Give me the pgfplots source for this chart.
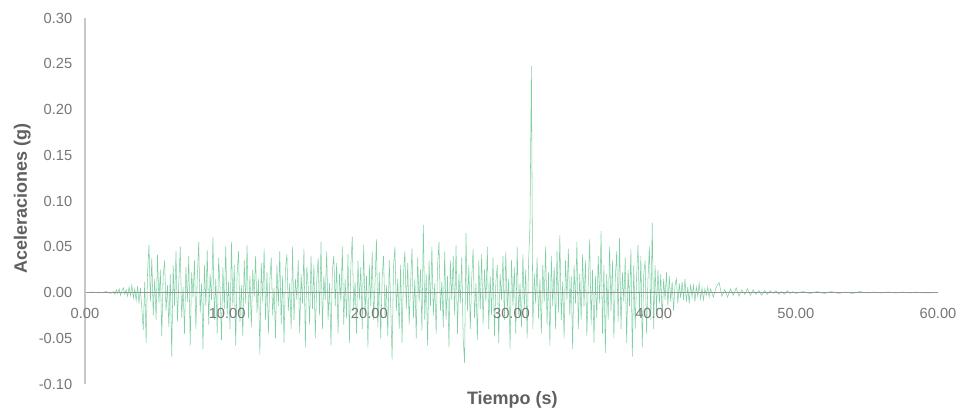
\documentclass[border=0pt]{standalone}
\usepackage{pgfplots}
\pgfplotsset{compat=1.18}
\usepackage{fontspec}
\setmainfont{Liberation Sans}
\definecolor{sig}{RGB}{76,190,128}
\definecolor{ticktxt}{RGB}{118,118,118}
\definecolor{labtxt}{RGB}{96,96,96}
\begin{document}
\begin{tikzpicture}
\begin{axis}[
  name=ax, at={(0,0)}, anchor=south west,
  scale only axis, width=639.75pt, height=274.5pt,
  xmin=0, xmax=60, ymin=-0.10, ymax=0.30,
  axis x line*=middle, axis y line*=left,
  hide obscured x ticks=false, hide obscured y ticks=false,
  x axis line style={draw=black!42, line width=0.6pt},
  y axis line style={draw=black!22, line width=0.8pt},
  xtick={0,10,...,60}, ytick={-0.10,-0.05,0,0.05,0.10,0.15,0.20,0.25,0.30},
  major tick length=0pt,
  /pgf/number format/.cd, fixed, fixed zerofill, precision=2, assume math mode=true, /pgfplots/.cd,
  tick label style={font=\fontsize{11}{13}\selectfont, text=ticktxt},
  yticklabel style={xshift=-6pt},
  xticklabel style={yshift=-8pt},
  xlabel={Tiempo (s)}, ylabel={Aceleraciones (g)},
  label style={font=\fontsize{13.5}{15}\selectfont\bfseries, text=labtxt},
  xlabel style={at={(axis description cs:0.501,0)}, anchor=center, yshift=-12pt},
  ylabel style={at={(axis description cs:-0.0735,0.508)}, anchor=center},
  axis on top,
  clip=false,
]
\addplot[sig, line width=0.4pt, opacity=0.72] coordinates {
(0,0) (0.5,0.0005) (1.0,-0.0005) (1.5,0.001) (1.8,-0.001)
(2.0,0.001) (2.1,-0.002) (2.2,0.003) (2.3,-0.001) (2.4,0.004) (2.5,-0.003) (2.6,0.002) (2.7,0.005) (2.8,-0.002) (2.9,0.003)
(3.0,-0.004) (3.1,0.006) (3.2,-0.003) (3.3,0.008) (3.4,-0.006) (3.5,0.004) (3.6,-0.009) (3.7,0.007) (3.8,-0.012) (3.9,0.005)
(4.0,-0.018) (4.1,-0.041) (4.2,0.012) (4.3,-0.055) (4.4,0.022) (4.5,0.052) (4.6,-0.010) (4.7,0.038) (4.8,-0.025) (4.9,0.015)
(5.0,-0.030) (5.1,0.041) (5.2,-0.012) (5.3,0.025) (5.4,-0.048) (5.5,0.018) (5.6,0.035) (5.7,-0.020) (5.8,0.008) (5.9,-0.038)
(6.0,0.020) (6.1,-0.070) (6.2,0.030) (6.3,-0.015) (6.4,0.045) (6.5,-0.032) (6.6,0.012) (6.7,0.050) (6.8,-0.028) (6.9,0.006)
(7.0,-0.045) (7.1,0.028) (7.2,-0.010) (7.3,0.040) (7.4,-0.058) (7.5,0.022) (7.6,-0.005) (7.7,0.035) (7.8,-0.040) (7.9,0.018)
(8.0,0.055) (8.1,-0.022) (8.2,0.010) (8.3,-0.062) (8.4,0.030) (8.5,-0.015) (8.6,0.046) (8.7,-0.035) (8.8,0.020) (8.9,-0.008)
(9.0,0.061) (9.1,-0.030) (9.2,0.015) (9.3,-0.045) (9.4,0.038) (9.5,0.005) (9.6,-0.052) (9.7,0.028) (9.8,-0.018) (9.9,0.050)
(10.0,-0.025) (10.1,0.012) (10.2,-0.040) (10.3,0.055) (10.4,-0.015) (10.5,0.030) (10.6,-0.058) (10.7,0.020) (10.8,0.045) (10.9,-0.032)
(11.0,0.008) (11.1,-0.048) (11.2,0.035) (11.3,-0.012) (11.4,0.052) (11.5,-0.028) (11.6,0.018) (11.7,-0.038) (11.8,0.025) (11.9,-0.005)
(12.0,0.040) (12.1,-0.022) (12.2,0.015) (12.3,-0.068) (12.4,0.032) (12.5,-0.010) (12.6,0.048) (12.7,-0.030) (12.8,0.022) (12.9,-0.045)
(13.0,0.012) (13.1,0.038) (13.2,-0.025) (13.3,0.005) (13.4,-0.050) (13.5,0.030) (13.6,-0.015) (13.7,0.045) (13.8,-0.035) (13.9,0.018)
(14.0,-0.055) (14.1,0.025) (14.2,0.042) (14.3,-0.020) (14.4,0.010) (14.5,-0.040) (14.6,0.050) (14.7,-0.030) (14.8,0.015) (14.9,-0.008)
(15.0,0.035) (15.1,-0.045) (15.2,0.020) (15.3,-0.012) (15.4,0.048) (15.5,-0.060) (15.6,0.028) (15.7,0.008) (15.8,-0.035) (15.9,0.040)
(16.0,-0.018) (16.1,0.030) (16.2,-0.050) (16.3,0.012) (16.4,0.038) (16.5,-0.025) (16.6,0.055) (16.7,-0.040) (16.8,0.018) (16.9,-0.008)
(17.0,0.045) (17.1,-0.030) (17.2,0.010) (17.3,-0.058) (17.4,0.025) (17.5,0.040) (17.6,-0.015) (17.7,0.032) (17.8,-0.045) (17.9,0.020)
(18.0,-0.010) (18.1,0.050) (18.2,-0.035) (18.3,0.015) (18.4,-0.028) (18.5,0.042) (18.6,-0.055) (18.7,0.030) (18.8,0.061) (18.9,-0.020)
(19.0,0.012) (19.1,-0.045) (19.2,0.035) (19.3,-0.008) (19.4,0.028) (19.5,-0.040) (19.6,0.052) (19.7,-0.025) (19.8,0.018) (19.9,-0.060)
(20.0,0.030) (20.1,-0.015) (20.2,0.045) (20.3,-0.030) (20.4,0.010) (20.5,0.058) (20.6,-0.038) (20.7,0.022) (20.8,-0.050) (20.9,0.015)
(21.0,0.040) (21.1,-0.025) (21.2,0.008) (21.3,-0.048) (21.4,0.035) (21.5,-0.012) (21.6,-0.073) (21.7,0.028) (21.8,0.050) (21.9,-0.020)
(22.0,0.015) (22.1,-0.040) (22.2,0.030) (22.3,-0.055) (22.4,0.020) (22.5,0.045) (22.6,-0.018) (22.7,0.032) (22.8,-0.035) (22.9,0.010)
(23.0,0.048) (23.1,-0.028) (23.2,0.015) (23.3,-0.050) (23.4,0.038) (23.5,-0.010) (23.6,0.025) (23.7,-0.042) (23.8,0.074) (23.9,-0.030)
(24.0,0.020) (24.1,-0.058) (24.2,0.035) (24.3,-0.015) (24.4,0.050) (24.5,-0.025) (24.6,0.010) (24.7,-0.045) (24.8,0.030) (24.9,0.055)
(25.0,-0.020) (25.1,0.012) (25.2,-0.038) (25.3,0.045) (25.4,-0.030) (25.5,0.018) (25.6,-0.060) (25.7,0.035) (25.8,-0.008) (25.9,0.040)
(26.0,-0.025) (26.1,0.052) (26.2,-0.045) (26.3,0.020) (26.4,-0.012) (26.5,0.038) (26.6,-0.050) (26.7,-0.077) (26.8,0.065) (26.9,-0.020)
(27.0,0.030) (27.1,-0.040) (27.2,0.015) (27.3,0.048) (27.4,-0.028) (27.5,0.010) (27.6,-0.052) (27.7,0.035) (27.8,-0.018) (27.9,0.042)
(28.0,-0.035) (28.1,0.025) (28.2,-0.010) (28.3,0.050) (28.4,-0.040) (28.5,0.018) (28.6,-0.025) (28.7,0.038) (28.8,-0.048) (28.9,0.012)
(29.0,0.030) (29.1,-0.055) (29.2,0.020) (29.3,-0.008) (29.4,0.040) (29.5,-0.030) (29.6,0.045) (29.7,-0.020) (29.8,0.015) (29.9,-0.062)
(30.0,0.035) (30.1,-0.015) (30.2,0.028) (30.3,-0.045) (30.4,0.050) (30.5,-0.025) (30.6,0.010) (30.7,-0.038) (30.8,0.042) (30.9,-0.018)
(31.0,0.025) (31.1,-0.050) (31.2,0.032) (31.3,0.075) (31.4,0.248) (31.5,-0.040) (31.6,0.020) (31.7,-0.012) (31.8,0.038) (31.9,-0.028)
(32.0,0.015) (32.1,-0.045) (32.2,0.030) (32.3,-0.010) (32.4,0.050) (32.5,-0.035) (32.6,0.022) (32.7,-0.058) (32.8,0.040) (32.9,-0.015)
(33.0,0.028) (33.1,-0.040) (33.2,0.045) (33.3,-0.022) (33.4,0.063) (33.5,-0.030) (33.6,0.012) (33.7,-0.050) (33.8,0.035) (33.9,-0.008)
(34.0,0.048) (34.1,-0.025) (34.2,0.018) (34.3,-0.062) (34.4,0.030) (34.5,-0.012) (34.6,0.055) (34.7,-0.040) (34.8,0.020) (34.9,-0.030)
(35.0,0.042) (35.1,-0.015) (35.2,0.035) (35.3,-0.048) (35.4,0.010) (35.5,0.058) (35.6,-0.035) (35.7,0.025) (35.8,-0.055) (35.9,0.018)
(36.0,-0.028) (36.1,0.040) (36.2,-0.012) (36.3,0.067) (36.4,-0.045) (36.5,0.030) (36.6,-0.066) (36.7,0.020) (36.8,-0.030) (36.9,0.050)
(37.0,-0.020) (37.1,0.035) (37.2,-0.050) (37.3,0.015) (37.4,0.045) (37.5,-0.032) (37.6,0.060) (37.7,-0.040) (37.8,0.022) (37.9,-0.010)
(38.0,0.038) (38.1,-0.055) (38.2,0.025) (38.3,-0.015) (38.4,0.048) (38.5,-0.070) (38.6,0.030) (38.7,-0.040) (38.8,0.018) (38.9,0.052)
(39.0,-0.025) (39.1,0.040) (39.2,-0.060) (39.3,0.020) (39.4,0.035) (39.5,-0.045) (39.6,0.015) (39.7,0.050) (39.8,-0.030) (39.9,0.076)
(40.0,-0.040) (40.1,0.030) (40.2,-0.020) (40.3,0.025) (40.4,-0.012) (40.5,0.020) (40.6,-0.030) (40.7,0.015) (40.8,-0.008) (40.9,0.022)
(41.0,-0.015) (41.1,0.018) (41.2,-0.010) (41.3,0.012) (41.4,-0.020) (41.5,0.008) (41.6,0.015) (41.7,-0.012) (41.8,0.010) (41.9,-0.006)
(42.0,0.012) (42.1,-0.008) (42.2,0.015) (42.3,-0.010) (42.4,0.006) (42.5,-0.012) (42.6,0.009) (42.7,-0.005) (42.8,0.008) (42.9,-0.010)
(43.0,0.006) (43.1,-0.004) (43.2,0.010) (43.3,-0.007) (43.4,0.005) (43.5,-0.008) (43.6,0.004) (43.7,-0.003) (43.8,0.006) (43.9,-0.005)
(44.0,0.004) (44.2,-0.005) (44.4,0.006) (44.6,0.011) (44.8,-0.004) (45.0,0.003) (45.2,-0.005) (45.4,0.004) (45.6,-0.003) (45.8,0.005)
(46.0,-0.004) (46.2,0.003) (46.4,-0.002) (46.6,0.004) (46.8,-0.003) (47.0,0.003) (47.2,-0.002) (47.4,0.002) (47.6,-0.003) (47.8,0.002)
(48.0,-0.002) (48.2,0.002) (48.4,-0.001) (48.6,0.002) (48.8,-0.002) (49.0,0.001) (49.2,-0.002) (49.4,0.002) (49.6,-0.001) (49.8,0.001)
(50.0,-0.001) (50.5,0.001) (51.0,-0.001) (51.5,0.001) (52.0,-0.001) (52.5,0.001) (53.0,-0.001) (53.5,0.0005) (54.0,-0.001) (54.5,0.001)
(55.0,-0.0005) (55.5,0.0005) (56.0,-0.0005) (56.5,0.0005) (57.0,-0.0005) (57.5,0.0005) (58.0,-0.0005) (58.5,0.0005) (59.0,-0.0005) (60.0,0)
};
\end{axis}
\path[use as bounding box] (ax.south west) ++(-63.75pt,-20.25pt) rectangle ([xshift=17.25pt,yshift=13.5pt]ax.north east);
\end{tikzpicture}
\end{document}
